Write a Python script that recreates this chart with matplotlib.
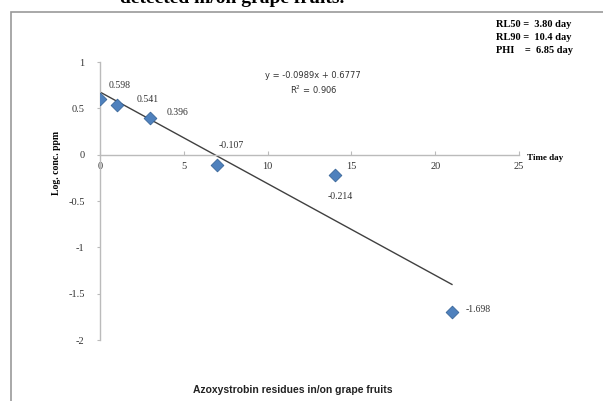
import matplotlib.pyplot as plt
import numpy as np
from matplotlib.patches import Rectangle

# residue data (days after application, log concentration)
days = [0, 1, 3, 7, 14, 21]
log_conc = [0.598, 0.541, 0.396, -0.107, -0.214, -1.698]
value_labels = ['0.598', '0.541', '0.396', '-0.107', '-0.214', '-1.698']
# label offsets in points
offsets = [(6, 10), (14, 4), (12, 4), (1, 14), (-5, -16), (10, 2)]
x_ticks = [0, 5, 10, 15, 20, 25]
y_ticks = [1, 0.5, 0, -0.5, -1, -1.5, -2]
y_tick_labels = ['1', '0.5', '0', '-0.5', '-1', '-1.5', '-2']
stats_lines = ['RL50 =  3.80 day', 'RL90 =  10.4 day', 'PHI    =  6.85 day']

serif = ['Liberation Serif', 'DejaVu Serif']

def main():
    fig = plt.figure(figsize=(6.03, 4.01), dpi=100)
    ax = fig.add_axes([0.1658, 0.152, 0.6949, 0.693])

    x = np.array(days, dtype=float)
    y = np.array(log_conc)
    slope, intercept = np.polyfit(x, y, 1)
    r2 = np.corrcoef(x, y)[0, 1] ** 2

    # trend line over the sampled range
    xl = np.array([x.min(), x.max()])
    ax.plot(xl, slope * xl + intercept, color='#404040', lw=1.0, zorder=2)
    ax.scatter(x, y, marker='D', s=42, color='#4F81BD', edgecolor='#3A6699',
               lw=0.6, zorder=3)

    for xi, yi, lab, off in zip(x, y, value_labels, offsets):
        ax.annotate(lab, (xi, yi), xytext=off, textcoords='offset points',
                    ha='left', va='center', fontsize=7, family=serif,
                    color='#333333')

    ax.text(12.7, 0.86, 'y = %.4fx + %.4f' % (slope, intercept),
            fontsize=6, ha='center', va='center', color='#333333')
    ax.text(12.75, 0.70, 'R$^2$ = %.3f' % r2,
            fontsize=6, ha='center', va='center', color='#333333')

    ax.set_xlim(0, 25)
    ax.set_ylim(-2, 1)
    ax.spines['left'].set_position(('data', 0))
    ax.spines['bottom'].set_position(('data', 0))
    ax.spines['right'].set_visible(False)
    ax.spines['top'].set_visible(False)
    for s in ('left', 'bottom'):
        ax.spines[s].set_color('#BBBBBB')
        ax.spines[s].set_linewidth(1.0)

    ax.set_xticks(x_ticks)
    ax.set_xticklabels([str(t) for t in x_ticks], fontsize=7.5, family=serif,
                       color='#333333')
    ax.set_yticks(y_ticks)
    ax.set_yticklabels(y_tick_labels, fontsize=7.5, family=serif,
                       color='#333333')
    ax.tick_params(axis='x', direction='in', length=3, color='#BBBBBB', pad=5)
    ax.tick_params(axis='y', direction='out', length=2, color='#BBBBBB', pad=9)
    ax.patch.set_visible(False)

    fig.text(0.0945, 0.593, 'Log. conc. ppm', rotation=90, fontsize=7,
             fontweight='bold', family=serif, ha='center', va='center')
    fig.text(0.874, 0.607, 'Time day', fontsize=6.5, fontweight='bold',
             family=serif, ha='left', va='center')

    for i, line in enumerate(stats_lines):
        fig.text(0.822, 0.938 - i * 0.0325, line, fontsize=7.5,
                 fontweight='bold', family=serif, ha='left', va='center')

    fig.text(0.485, 0.028, 'Azoxystrobin residues in/on grape fruits',
             fontsize=7.5, fontweight='bold', ha='center', va='center',
             family=['Liberation Sans', 'DejaVu Sans'], color='#222222')

    # heading cut at the top edge
    fig.text(0.385, 0.9925, 'detected in/on grape fruits.', fontsize=14,
             fontweight='bold', family=serif, ha='center', va='baseline')

    fig.patches.append(Rectangle((0.018, -0.02), 1.0, 0.99,
                                 transform=fig.transFigure, fill=False,
                                 edgecolor='#999999', lw=1.2))

    fig.savefig('out.png', dpi=100)

if __name__ == "__main__":
    main()
